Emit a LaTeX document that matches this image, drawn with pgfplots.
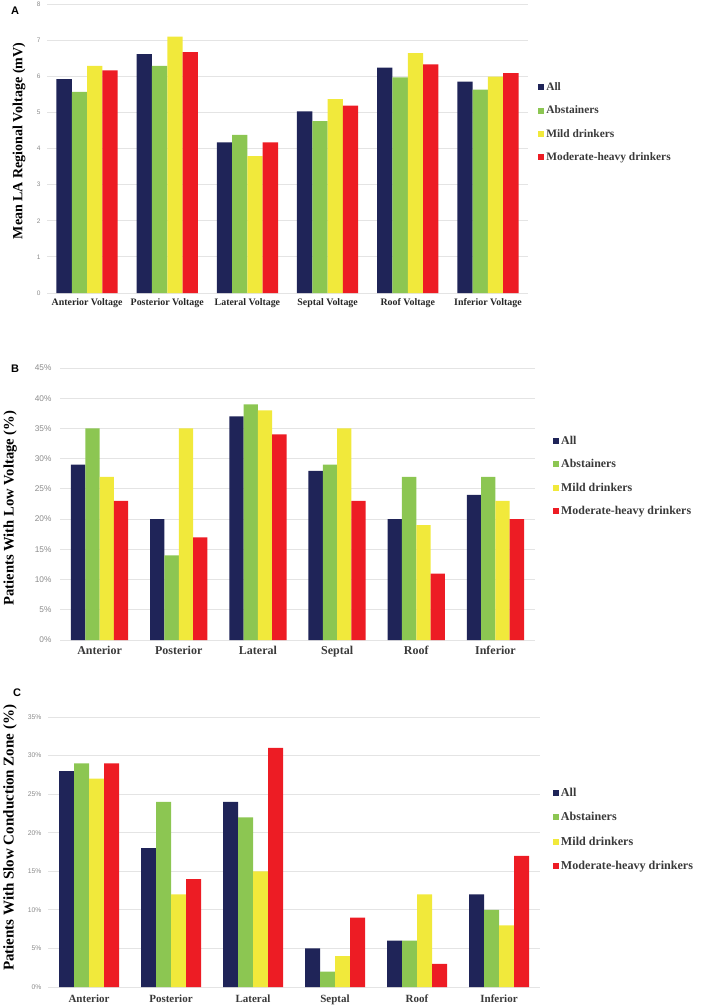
\documentclass[border=0pt]{standalone}
\usepackage{fontspec}
\setmainfont{Liberation Serif}
\newfontfamily\lsans{Liberation Sans}
\usepackage{pgfplots}
\pgfplotsset{compat=1.18}
\definecolor{cAll}{HTML}{1F2458}
\definecolor{cAbs}{HTML}{8CC652}
\definecolor{cMild}{HTML}{F1E93B}
\definecolor{cMod}{HTML}{ED1C24}
\definecolor{gridc}{HTML}{E4E4E4}
\definecolor{txtg}{HTML}{3A3A3A}
\definecolor{tickg}{HTML}{8A8A8A}
\pgfplotsset{
  panel/.style={
    scale only axis,
    ybar=0pt,
    xmin=-0.5, xmax=5.5,
    xtick={0,1,2,3,4,5},
    axis line style={draw=none},
    major tick length=0pt,
    ymajorgrids,
    major grid style={gridc, line width=0.9pt},
    /pgf/number format/assume math mode=true,
    legend cell align=left,
    legend style={draw=none, fill=none, inner sep=0pt, anchor=north west,
      font=\bfseries\fontsize{11.8}{13}\selectfont, text=txtg,
      /tikz/every even column/.append style={column sep=0pt}},
    legend image code/.code={\fill[##1] (0pt,-3pt) rectangle (6pt,3pt);},
    every axis plot/.append style={draw=none},
    clip=false,
  }
}
\begin{document}
\begin{tikzpicture}
\useasboundingbox (0,0) rectangle (709pt,-1006pt);
% ---------------- Panel A
\begin{axis}[panel,
  at={(47pt,-293pt)}, anchor=south west,
  width=481pt, height=289pt,
  ymin=0, ymax=8, ytick={0,1,...,8},
  bar width=15.3pt,
  yticklabel style={font=\lsans\fontsize{6.5}{7}\selectfont, text=tickg, xshift=-3pt},
  xticklabels={Anterior Voltage,Posterior Voltage,Lateral Voltage,Septal Voltage,Roof Voltage,Inferior Voltage},
  xticklabel style={font=\bfseries\fontsize{9.9}{11}\selectfont, text=black!85, anchor=base, yshift=-12pt},
  ylabel={Mean LA Regional Voltage (mV)},
  ylabel style={at={(axis description cs:-0.058,0.526)}, anchor=center, font=\bfseries\fontsize{14}{16}\selectfont},
  legend style={at={(axis description cs:1.021,0.735)}, font=\bfseries\fontsize{11.4}{13}\selectfont, row sep=9.8pt},
]
\addplot[fill=cAll] coordinates {(0,5.92) (1,6.61) (2,4.17) (3,5.03) (4,6.24) (5,5.85)};
\addplot[fill=cAbs] coordinates {(0,5.57) (1,6.29) (2,4.38) (3,4.76) (4,5.97) (5,5.63)};
\addplot[fill=cMild] coordinates {(0,6.29) (1,7.10) (2,3.79) (3,5.37) (4,6.64) (5,5.99)};
\addplot[fill=cMod] coordinates {(0,6.16) (1,6.67) (2,4.17) (3,5.19) (4,6.33) (5,6.09)};
\legend{All,Abstainers,Mild drinkers,Moderate-heavy drinkers}
\end{axis}
\node[font=\lsans\bfseries\fontsize{11}{12}\selectfont] at (15pt,-11pt) {A};
% ---------------- Panel B
\begin{axis}[panel,
  at={(60pt,-640pt)}, anchor=south west,
  width=475pt, height=272pt,
  ymin=0, ymax=45, ytick={0,5,...,45},
  bar width=14.3pt,
  yticklabel={\pgfmathprintnumber{\tick}\%},
  yticklabel style={font=\lsans\fontsize{8.3}{9}\selectfont, text=tickg, xshift=-5pt},
  xticklabels={Anterior,Posterior,Lateral,Septal,Roof,Inferior},
  xticklabel style={font=\bfseries\fontsize{12}{13}\selectfont, text=txtg, anchor=base, yshift=-14pt},
  ylabel={Patients With Low Voltage (\%)},
  ylabel style={at={(axis description cs:-0.105,0.485)}, anchor=center, font=\bfseries\fontsize{14.6}{16}\selectfont},
  legend style={at={(axis description cs:1.038,0.757)}, font=\bfseries\fontsize{11.9}{13}\selectfont, row sep=9.5pt},
]
\addplot[fill=cAll] coordinates {(0,29) (1,20) (2,37) (3,28) (4,20) (5,24)};
\addplot[fill=cAbs] coordinates {(0,35) (1,14) (2,39) (3,29) (4,27) (5,27)};
\addplot[fill=cMild] coordinates {(0,27) (1,35) (2,38) (3,35) (4,19) (5,23)};
\addplot[fill=cMod] coordinates {(0,23) (1,17) (2,34) (3,23) (4,11) (5,20)};
\legend{All,Abstainers,Mild drinkers,Moderate-heavy drinkers}
\end{axis}
\node[font=\lsans\bfseries\fontsize{11}{12}\selectfont] at (15pt,-369pt) {B};
% ---------------- Panel C
\begin{axis}[panel,
  at={(48pt,-987pt)}, anchor=south west,
  width=492pt, height=270pt,
  ymin=0, ymax=35, ytick={0,5,...,35},
  bar width=15pt,
  yticklabel={\pgfmathprintnumber{\tick}\%},
  yticklabel style={font=\lsans\fontsize{6.8}{8}\selectfont, text=tickg, xshift=-3pt},
  xticklabels={Anterior,Posterior,Lateral,Septal,Roof,Inferior},
  xticklabel style={font=\bfseries\fontsize{11}{12}\selectfont, text=txtg, anchor=base, yshift=-15.5pt},
  ylabel={Patients With Slow Conduction Zone (\%)},
  ylabel style={at={(axis description cs:-0.077,0.552)}, anchor=center, font=\bfseries\fontsize{15}{17}\selectfont},
  legend style={at={(axis description cs:1.026,0.745)}, font=\bfseries\fontsize{12.1}{13}\selectfont, row sep=10.5pt},
]
\addplot[fill=cAll] coordinates {(0,28) (1,18) (2,24) (3,5) (4,6) (5,12)};
\addplot[fill=cAbs] coordinates {(0,29) (1,24) (2,22) (3,2) (4,6) (5,10)};
\addplot[fill=cMild] coordinates {(0,27) (1,12) (2,15) (3,4) (4,12) (5,8)};
\addplot[fill=cMod] coordinates {(0,29) (1,14) (2,31) (3,9) (4,3) (5,17)};
\legend{All,Abstainers,Mild drinkers,Moderate-heavy drinkers}
\end{axis}
\node[font=\lsans\bfseries\fontsize{11}{12}\selectfont] at (17pt,-693pt) {C};
\end{tikzpicture}
\end{document}
